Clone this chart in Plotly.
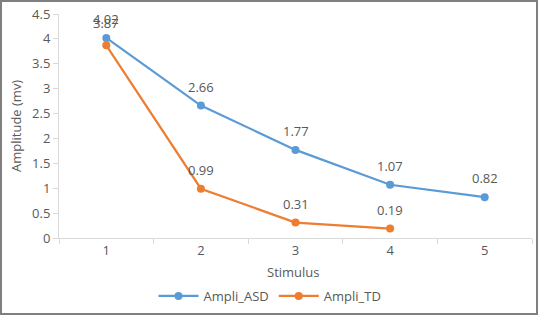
import plotly.graph_objects as go

stimulus = [1, 2, 3, 4, 5]
ampli_asd = [4.02, 2.66, 1.77, 1.07, 0.82]
stimulus_td = [1, 2, 3, 4]
ampli_td = [3.87, 0.99, 0.31, 0.19]
y_ticks = [0, 0.5, 1, 1.5, 2, 2.5, 3, 3.5, 4, 4.5]

blue = "#5B9BD5"
orange = "#ED7D31"
gray_text = "#595959"

W, H = 538, 315
L, R, T, B = 59, 6, 14, 77
pw, ph = W - L - R, H - T - B

fig = go.Figure()
fig.add_trace(go.Scatter(
    x=stimulus, y=ampli_asd, mode="lines+markers", name="Ampli_ASD",
    line=dict(color=blue, width=2.2), marker=dict(color=blue, size=8)))
fig.add_trace(go.Scatter(
    x=stimulus_td, y=ampli_td, mode="lines+markers", name="Ampli_TD",
    line=dict(color=orange, width=2.2), marker=dict(color=orange, size=8)))

annotations = []
for xs, ys in ((stimulus, ampli_asd), (stimulus_td, ampli_td)):
    for xv, yv in zip(xs, ys):
        annotations.append(dict(x=xv, y=yv, xref="x", yref="y", text=f"{yv:.2f}",
                                showarrow=False, yshift=19, yanchor="middle",
                                font=dict(size=13, color=gray_text)))
annotations[len(stimulus)]["yshift"] = 22

annotations += [
    dict(text="Stimulus", xref="paper", yref="paper", x=(293 - L) / pw,
         y=-(272 - (H - B)) / ph, xanchor="center", yanchor="middle",
         showarrow=False, font=dict(size=13, color=gray_text)),
    dict(text="Amplitude (mv)", xref="paper", yref="paper", x=-(L - 16) / pw,
         y=(H - B - 126) / ph, xanchor="center", yanchor="middle", textangle=-90,
         showarrow=False, font=dict(size=13, color=gray_text)),
]

fig.update_layout(
    width=W, height=H,
    margin=dict(l=L, r=R, t=T, b=B, autoexpand=False),
    paper_bgcolor="white", plot_bgcolor="white",
    font=dict(family="Open Sans, DejaVu Sans, sans-serif", color=gray_text, size=13),
    showlegend=True,
    legend=dict(orientation="h", x=(270 - L) / pw, xanchor="center",
                y=-(296 - (H - B)) / ph, yanchor="middle",
                font=dict(size=13, color=gray_text), itemwidth=40),
    xaxis=dict(range=[0.5, 5.5], tickvals=stimulus, ticks="", showgrid=False,
               showline=True, linecolor="#D9D9D9", linewidth=1, zeroline=False,
               automargin=False,
               minor=dict(tick0=0.5, dtick=1, ticks="outside", ticklen=5, tickcolor="#D9D9D9", showgrid=False),
               tickfont=dict(size=13, color=gray_text)),
    yaxis=dict(range=[0, 4.5], tickvals=y_ticks, ticktext=[f"{v:g}" for v in y_ticks],
               ticks="outside", ticklen=5, tickcolor="#D9D9D9", showgrid=False,
               showline=True, linecolor="#D9D9D9", linewidth=1, zeroline=False,
               automargin=False,
               tickfont=dict(size=13, color=gray_text)),
    annotations=annotations,
    shapes=[dict(type="rect", xref="paper", yref="paper", x0=-(L - 1) / pw, x1=1 + (R - 1) / pw,
                 y0=-(B - 1) / ph, y1=1 + (T - 1) / ph, line=dict(color="#7F7F7F", width=2))],
)

fig.write_html("out.html", config={"displayModeBar": False},
               post_script="document.body.style.margin='0';document.body.style.overflow='hidden';")
